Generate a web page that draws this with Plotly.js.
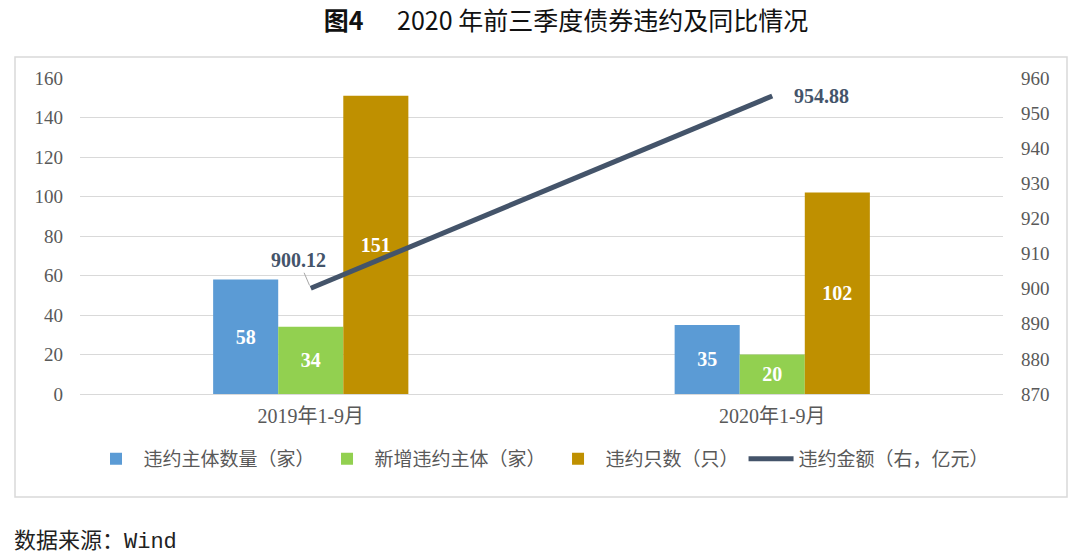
<!DOCTYPE html>
<html><head><meta charset="utf-8">
<script src="https://cdn.plot.ly/plotly-3.0.1.min.js"></script>
<style>body{margin:0;background:#fff}#c{width:1080px;height:555px}</style>
</head><body><div id="c"></div>
<script>
const categories = ['2019年1-9月', '2020年1-9月'];
const defaultIssuers = [58, 35];
const newDefaultIssuers = [34, 20];
const defaultBonds = [151, 102];
const defaultAmount = [900.12, 954.88];
const seriesNames = ['违约主体数量（家）', '新增违约主体（家）', '违约只数（只）', '违约金额（右，亿元）'];
const leftTicks = [0, 20, 40, 60, 80, 100, 120, 140, 160];
const rightTicks = [870, 880, 890, 900, 910, 920, 930, 940, 950, 960];

const serif = 'Liberation Serif, Times New Roman, Noto Sans CJK SC, serif';
const cjk = 'Noto Sans CJK SC, sans-serif';
const labelFont = {family: serif, size: 20, color: '#ffffff', weight: 'bold'};

function barTrace(vals, name, color) {
  return {type: 'bar', x: categories, y: vals, name: name,
    marker: {color: color},
    text: vals.map(String), textposition: 'inside', insidetextanchor: 'middle',
    textfont: labelFont, textangle: 0, cliponaxis: false, hoverinfo: 'none'};
}

const traces = [
  barTrace(defaultIssuers, seriesNames[0], '#5B9BD5'),
  barTrace(newDefaultIssuers, seriesNames[1], '#92D050'),
  barTrace(defaultBonds, seriesNames[2], '#BF9000'),
  {type: 'scatter', mode: 'lines', x: categories, y: defaultAmount, yaxis: 'y2',
   name: seriesNames[3], line: {color: '#44546A', width: 5}, hoverinfo: 'none'}
];

const annFont = {family: serif, size: 20, color: '#44546A', weight: 'bold'};
const annotations = [
  {x: categories[0], y: defaultAmount[0], xref: 'x', yref: 'y2',
   text: defaultAmount[0].toFixed(2), font: annFont, showarrow: true, arrowhead: 0,
   arrowwidth: 1, arrowcolor: '#A6A6A6', ax: -12, ay: -28, standoff: 3},
  {x: categories[1], y: defaultAmount[1], xref: 'x', yref: 'y2',
   text: defaultAmount[1].toFixed(2), font: annFont, showarrow: false,
   xanchor: 'left', xshift: 20, yshift: 0},
  {x: (12 - 80) / 923, y: (394 - 538) / 316, xref: 'paper', yref: 'paper',
   text: '数据来源：<span style="font-family:Liberation Mono, monospace">Wind</span>',
   showarrow: false, xanchor: 'left', yanchor: 'middle',
   font: {family: 'Noto Sans CJK SC, sans-serif', size: 22, color: '#222222'}}
];

const layout = {
  width: 1080, height: 555,
  margin: {l: 80, r: 77, t: 78, b: 161},
  paper_bgcolor: '#ffffff', plot_bgcolor: '#ffffff',
  title: {text: '<b>图4</b>      2020 年前三季度债券违约及同比情况', x: 0.524, xanchor: 'center',
    y: 1 - 21 / 555, yanchor: 'middle', yref: 'container',
    font: {family: cjk, size: 25, color: '#111111'}},
  barmode: 'group', bargap: 0.577, bargroupgap: 0,
  showlegend: true,
  legend: {orientation: 'h', x: 0.5, xanchor: 'center', y: (394 - 459) / 316, yanchor: 'middle',
    font: {family: cjk, size: 19, color: '#595959'}, itemwidth: 45, traceorder: 'normal'},
  xaxis: {type: 'category', showgrid: false, showline: true, linecolor: '#D9D9D9', linewidth: 1,
    ticks: '', tickfont: {family: serif, size: 20, color: '#595959'}, zeroline: false,
    ticklabelstandoff: 4},
  yaxis: {range: [0, 160], tickvals: leftTicks, showgrid: true, gridcolor: '#D9D9D9', gridwidth: 1,
    zeroline: false, showline: false, ticks: '', ticklen: 0,
    tickfont: {family: serif, size: 19, color: '#595959'}, ticklabelstandoff: 16},
  yaxis2: {range: [870, 960], tickvals: rightTicks, overlaying: 'y', side: 'right',
    showgrid: false, zeroline: false, showline: false, ticks: '',
    tickfont: {family: serif, size: 19, color: '#595959'}, ticklabelstandoff: 17},
  shapes: [{type: 'rect', xref: 'paper', yref: 'paper',
    x0: (15 - 80) / 923, x1: (1067 - 80) / 923, y0: (394 - 497) / 316, y1: (394 - 57) / 316,
    line: {color: '#D9D9D9', width: 1.5}, fillcolor: 'rgba(0,0,0,0)', layer: 'below'}],
  annotations: annotations
};

Plotly.newPlot('c', traces, layout, {staticPlot: true, displayModeBar: false});
</script></body></html>
